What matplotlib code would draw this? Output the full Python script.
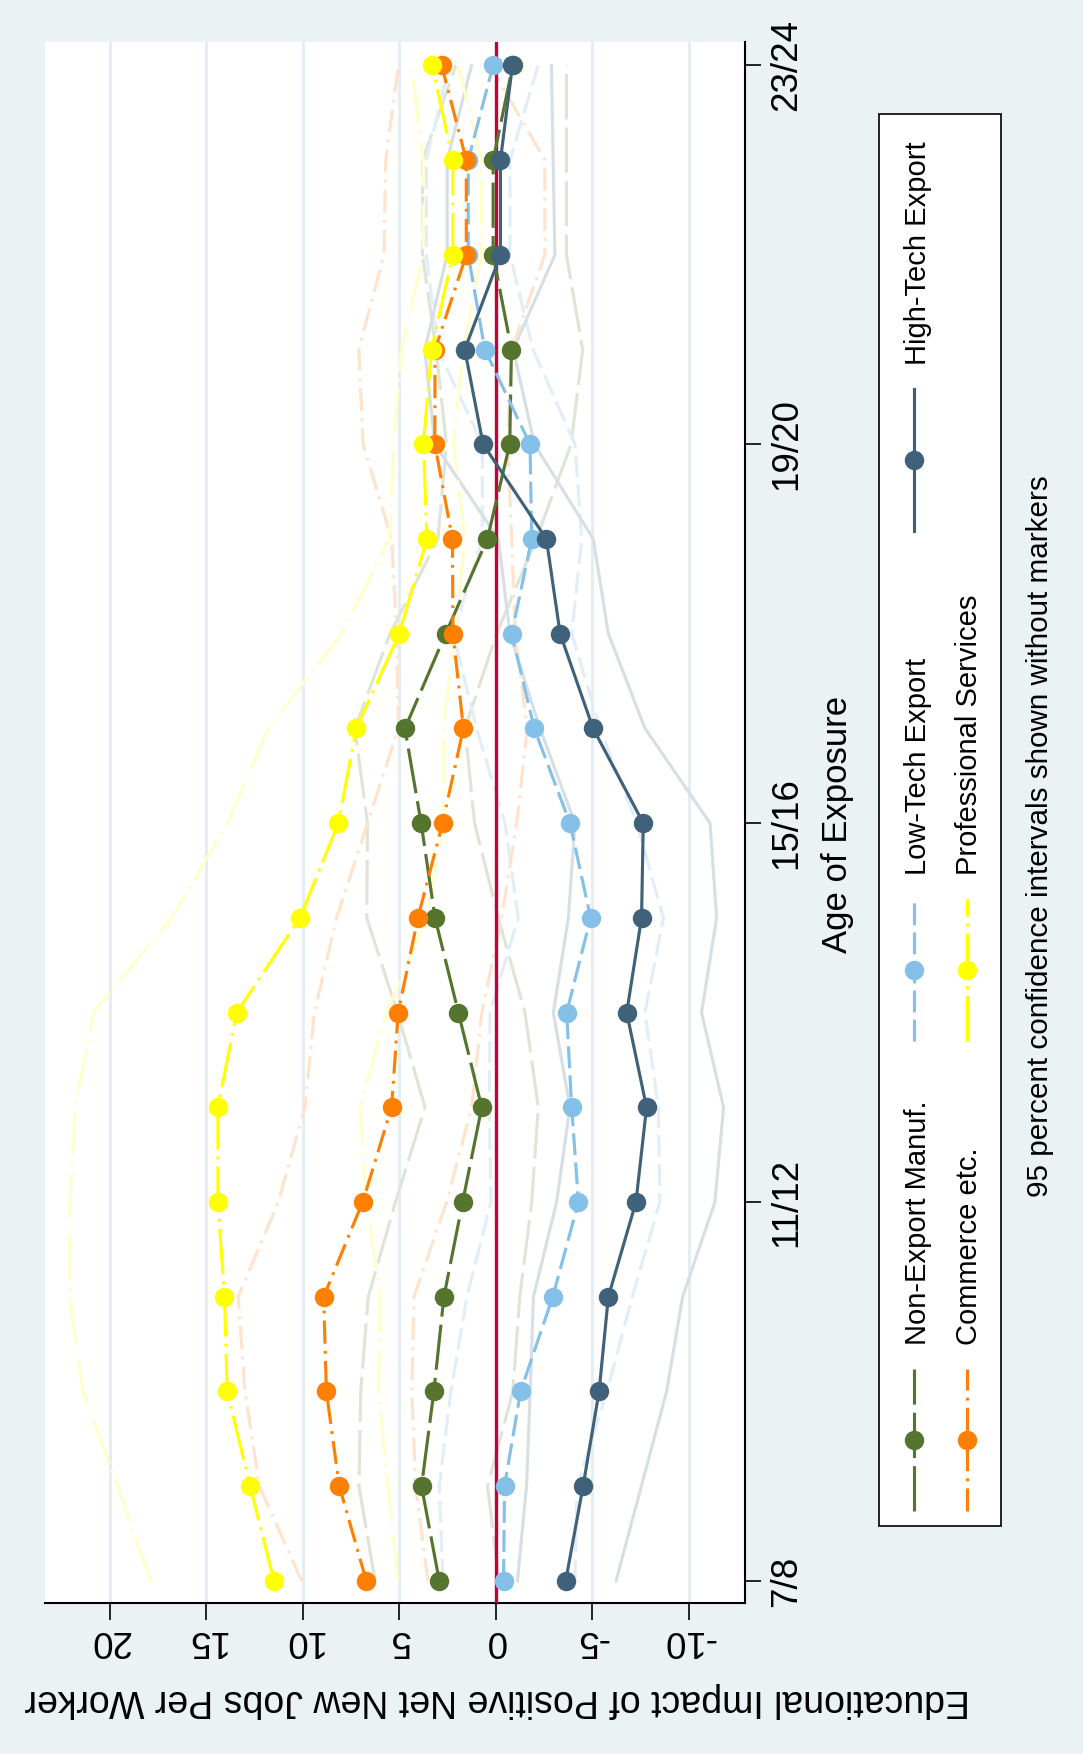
import matplotlib
matplotlib.use("Agg")
import matplotlib.pyplot as plt
from matplotlib.lines import Line2D
from matplotlib.patches import Rectangle

plt.rcParams["font.family"] = ["Liberation Sans", "DejaVu Sans"]

# age of exposure: 7 means "7/8", 8 means "8/9", ...
ages = [7, 8, 9, 10, 11, 12, 13, 14, 15, 16, 17, 18, 19, 20, 21, 22, 23]
age_ticks = [7, 11, 15, 19, 23]
age_tick_labels = ["7/8", "11/12", "15/16", "19/20", "23/24"]
value_ticks = [20, 15, 10, 5, 0, -5, -10]
value_tick_labels = ["20", "15", "10", "5", "0", "-5", "-10"]

non_export = [2.93, 3.85, 3.21, 2.69, 1.72, 0.73, 1.94, 3.15, 3.87, 4.71, 2.60, 0.44, -0.72, -0.81, 0.14, 0.14, -0.88]
non_export_hi = [6.26, 7.09, 7.00, 6.61, 5.20, 3.67, 5.10, 6.69, 6.65, 7.30, 5.48, 3.00, 2.56, 3.10, 3.80, 3.80, 2.07]
non_export_lo = [-0.17, 0.43, -0.88, -1.24, -1.86, -2.20, -1.51, -0.13, 1.10, 1.60, -0.04, -2.10, -3.90, -4.50, -3.66, -3.66, -3.66]

low_tech = [-0.40, -0.45, -1.28, -2.95, -4.28, -3.93, -3.67, -4.91, -3.84, -1.99, -0.82, -1.86, -1.77, 0.57, 1.43, 1.43, 0.14]
low_tech_hi = [2.74, 2.93, 2.33, 1.50, 0.25, 0.34, 0.30, -1.16, -0.47, 1.00, 2.20, 0.70, 0.70, 3.00, 3.60, 3.60, 2.40]
low_tech_lo = [-4.09, -4.21, -5.76, -7.07, -8.50, -8.42, -7.73, -8.68, -7.30, -5.40, -3.93, -4.45, -4.10, -1.93, -0.73, -0.73, -2.19]

high_tech = [-3.62, -4.52, -5.35, -5.83, -7.26, -7.81, -6.78, -7.55, -7.64, -5.04, -3.33, -2.62, 0.66, 1.61, -0.24, -0.24, -0.86]
high_tech_hi = [-1.12, -1.59, -1.78, -1.95, -3.15, -3.84, -2.98, -3.76, -4.10, -2.29, -0.73, -0.13, 3.16, 3.68, 2.52, 2.52, 1.26]
high_tech_lo = [-6.23, -7.54, -8.85, -9.68, -11.35, -11.80, -10.66, -11.44, -11.10, -7.73, -5.83, -5.05, -2.00, -0.90, -3.06, -2.97, -2.88]

commerce = [6.71, 8.11, 8.78, 8.92, 6.90, 5.40, 5.06, 4.04, 2.76, 1.68, 2.22, 2.25, 3.16, 3.15, 1.53, 1.53, 2.81]
commerce_hi = [10.06, 12.25, 13.00, 13.35, 11.27, 9.89, 9.40, 8.25, 6.65, 5.05, 5.14, 5.40, 6.88, 7.10, 5.80, 5.70, 5.05]
commerce_lo = [3.52, 4.16, 4.35, 4.24, 2.55, 1.25, 0.73, -0.30, -1.08, -1.63, -1.00, -0.82, -0.60, -0.82, -2.54, -2.54, 0.30]

prof = [11.49, 12.73, 13.92, 14.06, 14.40, 14.40, 13.43, 10.15, 8.16, 7.23, 5.00, 3.57, 3.75, 3.33, 2.23, 2.23, 3.30]
prof_hi = [17.90, 19.60, 21.40, 22.10, 22.07, 21.80, 20.85, 16.80, 13.90, 11.80, 7.99, 5.52, 5.30, 4.89, 3.77, 3.77, 4.37]
prof_lo = [5.07, 5.60, 6.07, 6.00, 6.70, 7.04, 5.66, 3.60, 2.70, 2.72, 2.12, 1.60, 2.20, 1.69, 0.74, 0.74, 1.95]

names = ["Non-Export Manuf.", "Low-Tech Export", "High-Tech Export",
         "Commerce etc.", "Professional Services"]
series = [(non_export, non_export_lo, non_export_hi),
          (low_tech, low_tech_lo, low_tech_hi),
          (high_tech, high_tech_lo, high_tech_hi),
          (commerce, commerce_lo, commerce_hi),
          (prof, prof_lo, prof_hi)]

# line styles (dashes in units of linewidth)
colors = ["#55752F", "#85C0E9", "#3F6179", "#FF8000", "#FFFF00"]
ci_colors = ["#DFE5D6", "#E1EEF9", "#D7DFE5", "#FFE3CC", "#FFFFCC"]
dash_styles = [(14.5, 2.6), (7, 2.3), None, (7.4, 2.3, 0.9, 2.3), (14.5, 2.3, 0.9, 2.3)]

W, H = 1083, 1754
BG = "#EAF2F3"
LW = 2.25
MS = 14


def fx(x):
    return x / W


def fy(y):
    return 1 - y / H


def styled(line, dashes):
    if dashes is None:
        line.set_linestyle("-")
    else:
        line.set_dashes(dashes)
    return line


fig = plt.figure(figsize=(W / 100, H / 100), dpi=100, facecolor=BG)
ax = fig.add_axes([fx(44.6), fy(1602.7), (744.8 - 44.6) / W, (1602.7 - 41.7) / H])
ax.set_facecolor("white")

# confidence bands first, then the zero line, then the estimates
for (vals, lo, hi), c, d in zip(series, ci_colors, dash_styles):
    for bound in (lo, hi):
        ln, = ax.plot(bound, ages, color=c, lw=LW, zorder=2)
        styled(ln, d)

ax.axvline(0, color="#C4023A", lw=2.4, zorder=3)

for (vals, lo, hi), c, d in zip(series, colors, dash_styles):
    ln, = ax.plot(vals, ages, color=c, lw=LW, marker="o", ms=MS, mew=0, zorder=4)
    styled(ln, d)

ax.set_xlim(23.38, -12.9)
ax.set_ylim(6.77, 23.25)

ax.set_xticks(value_ticks)
ax.set_xticklabels(value_tick_labels, rotation=180)
ax.grid(axis="x", color="#E4EDF0", lw=2)
ax.set_axisbelow(True)

ax.yaxis.tick_right()
ax.set_yticks(age_ticks)
ax.set_yticklabels(age_tick_labels, rotation=90, va="center")

ax.tick_params(axis="x", length=12, width=1.2, pad=2.5, labelsize=26.5)
ax.tick_params(axis="y", length=11.5, width=1.2, pad=6, labelsize=26.5)
for side in ("left", "top"):
    ax.spines[side].set_visible(False)
for side in ("bottom", "right"):
    ax.spines[side].set_linewidth(1.5)

# axis titles and note
fig.text(fx(497), fy(1690), "Educational Impact of Positive Net New Jobs Per Worker",
         rotation=180, rotation_mode="anchor", ha="center", va="baseline", fontsize=27)
fig.text(fx(847), fy(824), "Age of Exposure",
         rotation=90, rotation_mode="anchor", ha="center", va="baseline", fontsize=25)
fig.text(fx(1048), fy(836), "95 percent confidence intervals shown without markers",
         rotation=90, rotation_mode="anchor", ha="center", va="baseline", fontsize=21.3)

# legend box
fig.add_artist(Rectangle((fx(879.3), fy(1525.6)), (1001 - 879.3) / W, (1525.6 - 114) / H,
                         transform=fig.transFigure, facecolor="white",
                         edgecolor="black", lw=1.2, zorder=1))
slots = [(914, 926, 1440), (914, 926, 970), (914, 926, 460),
         (966.7, 977, 1440), (966.7, 977, 970)]
for name, c, d, (sx, tx, my) in zip(names, colors, dash_styles, slots):
    seg = Line2D([fx(sx), fx(sx)], [fy(my + 71), fy(my - 71)], color=c, lw=LW,
                 transform=fig.transFigure, zorder=2)
    fig.add_artist(styled(seg, d))
    fig.add_artist(Line2D([fx(sx)], [fy(my)], color=c, marker="o", ms=MS, mew=0,
                          transform=fig.transFigure, zorder=3))
    fig.text(fx(tx), fy(my - 95), name, rotation=90, rotation_mode="anchor",
             ha="left", va="baseline", fontsize=21, zorder=3)

fig.savefig("out.png", dpi=100, facecolor=BG)
